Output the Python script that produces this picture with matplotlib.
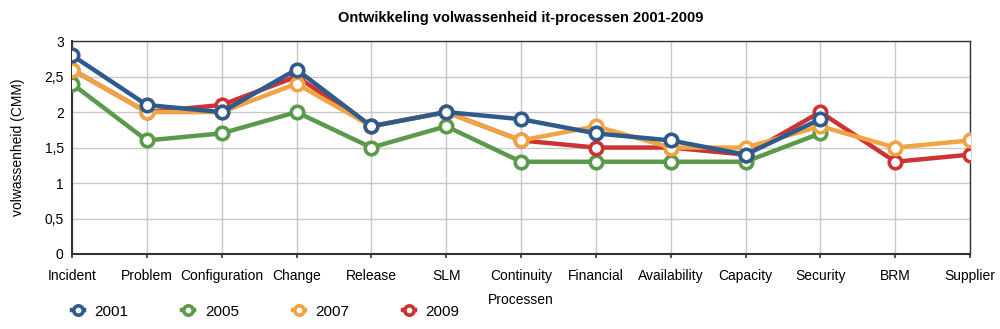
import matplotlib.pyplot as plt
from matplotlib.ticker import FuncFormatter
import numpy as np

plt.rcParams['font.family'] = ['Liberation Sans', 'DejaVu Sans']

# data
processen = ["Incident", "Problem", "Configuration", "Change", "Release", "SLM",
             "Continuity", "Financial", "Availability", "Capacity", "Security",
             "BRM", "Supplier"]
v2001 = [2.8, 2.1, 2.0, 2.6, 1.8, 2.0, 1.9, 1.7, 1.6, 1.4, 1.9]
v2005 = [2.4, 1.6, 1.7, 2.0, 1.5, 1.8, 1.3, 1.3, 1.3, 1.3, 1.7]
v2007 = [2.6, 2.0, 2.0, 2.4, 1.8, 2.0, 1.6, 1.8, 1.5, 1.5, 1.8, 1.5, 1.6]
v2009 = [2.6, 2.0, 2.1, 2.5, 1.8, 2.0, 1.6, 1.5, 1.5, 1.4, 2.0, 1.3, 1.4]

fig = plt.figure(figsize=(10, 3.29), dpi=100)
ax = fig.add_axes([0.072, 0.228, 0.898, 0.647])

x = np.arange(len(processen))
stijl = dict(lw=3.2, marker='o', ms=9, mew=2.6, mfc='white')
# volgorde van tekenen: groen onder, blauw boven
ax.plot(x[:len(v2005)], v2005, color='#5b9a4a', label='2005', zorder=3, **stijl)
ax.plot(x, v2009, color='#cc3333', label='2009', zorder=4, **stijl)
ax.plot(x, v2007, color='#f0a444', label='2007', zorder=5, **stijl)
ax.plot(x[:len(v2001)], v2001, color='#2e5a8c', label='2001', zorder=6, **stijl)

ax.set_xlim(0, len(processen) - 1)
ax.set_ylim(0, 3)
ax.set_xticks(x)
ax.set_xticklabels(processen, fontsize=10)
ax.set_yticks(np.arange(0, 3.01, 0.5))
ax.yaxis.set_major_formatter(FuncFormatter(lambda v, p: ('%g' % v).replace('.', ',')))
ax.tick_params(axis='y', length=0, labelsize=10, pad=6)
ax.tick_params(axis='x', length=3, width=1.2, color='#333333', pad=8)
ax.grid(True, color='#c8c8c8', lw=1)
for s in ax.spines.values():
    s.set_color('#333333')
    s.set_linewidth(1)
ax.spines['left'].set_linewidth(1.5)
ax.spines['bottom'].set_linewidth(1.5)

ax.set_title("Ontwikkeling volwassenheid it-processen 2001-2009",
             fontsize=10.5, fontweight='bold', pad=14)
ax.set_xlabel("Processen", fontsize=10, labelpad=7)
ax.set_ylabel("volwassenheid (CMM)", fontsize=10, labelpad=14)

h, l = ax.get_legend_handles_labels()
volg = [3, 0, 2, 1]
fig.legend([h[i] for i in volg], [l[i] for i in volg], ncol=4,
           loc='lower left', bbox_to_anchor=(0.058, -0.01), frameon=False,
           fontsize=11, handlelength=0.8, columnspacing=3.5, handletextpad=0.7,
           markerscale=0.75)

fig.savefig("out.png", dpi=100)
